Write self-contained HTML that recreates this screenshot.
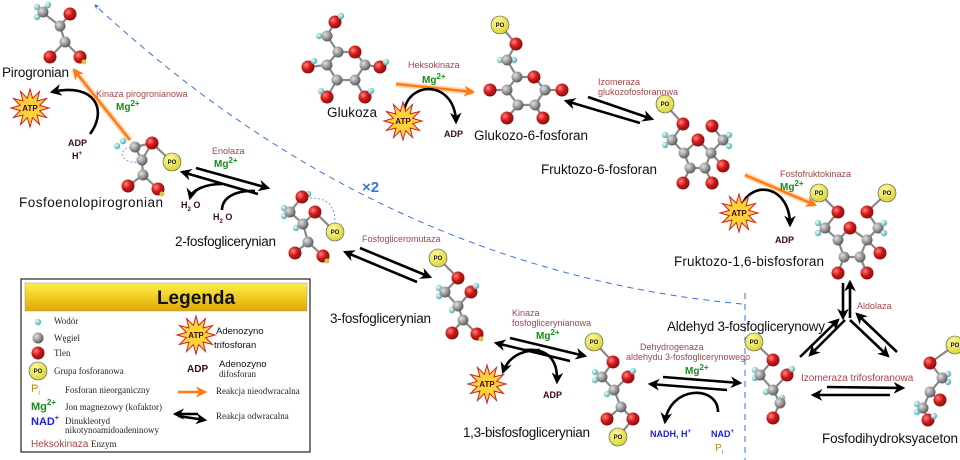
<!DOCTYPE html>
<html><head><meta charset="utf-8"><style>
html,body{margin:0;padding:0;background:#fff;width:960px;height:460px;overflow:hidden}
svg{display:block;font-family:"Liberation Sans",sans-serif}
.nm{font-size:13.5px;fill:#111}
.en{font-size:9px;fill:#a8434a}
.mg{font-size:10px;fill:#1a8a1a;font-weight:bold}
.adp{font-size:9px;font-weight:bold;fill:#3a0a18}
.bd{stroke:#888;stroke-width:2.2;fill:none}
.ar{stroke:#000;stroke-width:2.6;fill:none}
.lg{font-family:"Liberation Serif",serif;font-size:9px;fill:#222}
.po{font-size:6px;font-weight:bold;fill:#111}
</style></head><body>
<svg width="960" height="460" viewBox="0 0 960 460" xmlns="http://www.w3.org/2000/svg">
<defs>
<radialGradient id="gO" cx="35%" cy="35%" r="70%"><stop offset="0" stop-color="#ff8080"/><stop offset=".5" stop-color="#d01818"/><stop offset="1" stop-color="#801010"/></radialGradient>
<radialGradient id="gC" cx="35%" cy="35%" r="70%"><stop offset="0" stop-color="#e0e0e0"/><stop offset=".6" stop-color="#909090"/><stop offset="1" stop-color="#555"/></radialGradient>
<radialGradient id="gH" cx="35%" cy="35%" r="70%"><stop offset="0" stop-color="#e8ffff"/><stop offset="1" stop-color="#4aa8a8"/></radialGradient>
<radialGradient id="gP" cx="40%" cy="35%" r="70%"><stop offset="0" stop-color="#fffba0"/><stop offset="1" stop-color="#d8d030"/></radialGradient>
<linearGradient id="gL" x1="0" y1="0" x2="0" y2="1"><stop offset="0" stop-color="#fff04a"/><stop offset="1" stop-color="#e0a800"/></linearGradient>
<g id="O"><circle r="6.5" fill="url(#gO)"/></g>
<g id="C"><circle r="5.5" fill="url(#gC)"/></g>
<g id="H"><circle r="3.2" fill="url(#gH)"/></g>
<g id="P"><circle r="9" fill="url(#gP)" stroke="#555" stroke-width=".6"/></g>
<g id="S"><polygon fill="#ffd23a" stroke="#d02020" stroke-width="1" points="19,0 9.7,2.6 16.5,9.5 7.1,7.1 9.5,16.5 2.6,9.7 0,19 -2.6,9.7 -9.5,16.5 -7.1,7.1 -16.5,9.5 -9.7,2.6 -19,0 -9.7,-2.6 -16.5,-9.5 -7.1,-7.1 -9.5,-16.5 -2.6,-9.7 0,-19 2.6,-9.7 9.5,-16.5 7.1,-7.1 16.5,-9.5 9.7,-2.6"/></g>
<marker id="mb" viewBox="0 0 10 10" refX="8" refY="5" markerWidth="4.5" markerHeight="4.5" orient="auto"><path d="M0,0 L10,5 L0,10 L3,5z" fill="#000"/></marker>
<marker id="mo" viewBox="0 0 10 10" refX="8" refY="5" markerWidth="4.5" markerHeight="4.5" orient="auto"><path d="M0,0 L10,5 L0,10 L3,5z" fill="#ff7a10"/></marker>
<marker id="mbl" viewBox="0 0 10 10" refX="8" refY="5" markerWidth="5" markerHeight="5" orient="auto"><path d="M0,0 L10,5 L0,10 L3,5z" fill="#2a6ae0"/></marker>
</defs>

<path d="M742,304 Q380,270 95,5" stroke="#3a70e0" stroke-width="1" stroke-dasharray="6,5" fill="none" marker-end="url(#mbl)"/>
<line x1="745" y1="293" x2="745" y2="460" stroke="#3a70e0" stroke-width="1" stroke-dasharray="6,5"/>
<text x="362" y="192" font-size="15" font-weight="bold" fill="#3a70e0">×2</text>

<!-- Pyruvate -->
<polyline class="bd" points="42,12 60,26 70,14"/><polyline class="bd" points="60,26 65,42 50,57"/><line class="bd" x1="65" y1="42" x2="80" y2="57"/>
<use href="#H" x="37" y="7"/><use href="#H" x="48" y="5"/><use href="#H" x="37" y="17"/><use href="#C" x="43" y="12"/>
<use href="#C" x="60" y="26"/><use href="#O" x="70" y="14"/><use href="#C" x="65" y="42"/><use href="#O" x="50" y="57"/><use href="#O" x="80" y="57"/>
<circle cx="84" cy="62" r="2.5" fill="#cc4"/>
<text class="nm" x="2" y="77" textLength="67">Pirogronian</text>

<line x1="130" y1="140" x2="74" y2="70" stroke="#ffb070" stroke-width="6" opacity=".5"/>
<line x1="130" y1="140" x2="74" y2="70" stroke="#ff7a10" stroke-width="2.5" marker-end="url(#mo)"/>
<text class="en" x="96" y="97">Kinaza pirogronianowa</text>
<text class="mg" x="116" y="110">Mg<tspan font-size="8" dy="-4">2+</tspan></text>
<path class="ar" d="M90,134 C108,110 95,82 52,92" marker-end="url(#mb)"/>
<use href="#S" x="30" y="108"/><text x="30" y="111" font-size="8" font-weight="bold" text-anchor="middle" fill="#3a0a18">ATP</text>
<text class="adp" x="68" y="146">ADP</text><text class="adp" x="72" y="159">H<tspan font-size="6" dy="-4">+</tspan></text>

<!-- PEP -->
<path d="M135,147 c-20,0 -15,18 5,15" stroke="#7aa0e0" stroke-dasharray="2,2" fill="none"/>
<polyline class="bd" points="135,147 152,143 172,162"/><polyline class="bd" points="135,147 142,160 143,175 128,186"/><line class="bd" x1="143" y1="175" x2="158" y2="189"/><line class="bd" x1="142" y1="160" x2="152" y2="143"/>
<use href="#H" x="123" y="141"/><use href="#H" x="117" y="146"/><use href="#C" x="135" y="147"/><use href="#O" x="152" y="143"/><use href="#P" x="172" y="162"/>
<use href="#C" x="142" y="160"/><use href="#C" x="143" y="175"/><use href="#O" x="128" y="186"/><use href="#O" x="158" y="189"/><circle cx="162" cy="194" r="2.5" fill="#cc4"/>
<text class="po" x="172" y="164" text-anchor="middle">PO</text>
<text class="nm" x="19" y="207" textLength="144">Fosfoenolopirogronian</text>

<line class="ar" x1="196" y1="168" x2="268" y2="188" marker-end="url(#mb)"/>
<line class="ar" x1="258" y1="194" x2="182" y2="172" marker-end="url(#mb)"/>
<text class="en" x="212" y="154">Enolaza</text><text class="mg" x="214" y="167">Mg<tspan font-size="8" dy="-4">2+</tspan></text>
<path class="ar" d="M222,184 C205,184 192,190 190,198" marker-end="url(#mb)"/>
<path class="ar" d="M222,210 C222,198 235,190 255,191"/>
<text class="adp" x="181" y="208">H<tspan font-size="6" dy="3">2</tspan><tspan dy="-3"> O</tspan></text>
<text class="adp" x="213" y="220">H<tspan font-size="6" dy="3">2</tspan><tspan dy="-3"> O</tspan></text>

<!-- 2PG -->
<path d="M310,198 c15,0 25,5 25,25" stroke="#7aa0e0" stroke-dasharray="2,2" fill="none"/>
<polyline class="bd" points="302,197 290,212 303,224 315,212 335,232"/><polyline class="bd" points="303,224 308,242 295,253"/><line class="bd" x1="308" y1="242" x2="323" y2="256"/>
<use href="#H" x="308" y="194"/><use href="#O" x="302" y="197"/><use href="#H" x="284" y="208"/><use href="#H" x="284" y="216"/><use href="#C" x="290" y="212"/><use href="#O" x="315" y="212"/><use href="#H" x="296" y="228"/><use href="#C" x="303" y="224"/>
<use href="#P" x="335" y="232"/><use href="#C" x="308" y="242"/><use href="#O" x="295" y="253"/><use href="#O" x="323" y="256"/><circle cx="327" cy="261" r="2.5" fill="#cc4"/>
<text class="po" x="335" y="234" text-anchor="middle">PO</text>
<text class="nm" x="175" y="246" textLength="101">2-fosfoglicerynian</text>

<line class="ar" x1="360" y1="248" x2="430" y2="277" marker-end="url(#mb)"/>
<line class="ar" x1="417" y1="282" x2="345" y2="252" marker-end="url(#mb)"/>
<text class="en" x="362" y="242">Fosfogliceromutaza</text>

<!-- 3PG -->
<polyline class="bd" points="438,258 458,278 445,292 458,306 471,292"/><polyline class="bd" points="458,306 463,320 452,333"/><line class="bd" x1="463" y1="320" x2="477" y2="334"/>
<use href="#P" x="438" y="258"/><use href="#O" x="458" y="278"/><use href="#H" x="439" y="288"/><use href="#H" x="439" y="296"/><use href="#C" x="445" y="292"/><use href="#O" x="471" y="292"/><use href="#H" x="476" y="286"/><use href="#H" x="452" y="310"/><use href="#C" x="458" y="306"/>
<use href="#C" x="463" y="320"/><use href="#O" x="452" y="333"/><use href="#O" x="477" y="334"/><circle cx="481" cy="339" r="2.5" fill="#cc4"/>
<text class="po" x="438" y="260" text-anchor="middle">PO</text>
<text class="nm" x="330" y="323" textLength="101">3-fosfoglicerynian</text>

<line class="ar" x1="510" y1="338" x2="585" y2="356" marker-end="url(#mb)"/>
<line class="ar" x1="570" y1="361" x2="496" y2="343" marker-end="url(#mb)"/>
<text class="en" x="512" y="316">Kinaza</text><text class="en" x="512" y="326">fosfoglicerynianowa</text>
<text class="mg" x="536" y="339">Mg<tspan font-size="8" dy="-4">2+</tspan></text>
<path class="ar" d="M540,350 C520,350 508,358 503,372" marker-end="url(#mb)"/>
<path class="ar" d="M525,350 C548,348 558,360 557,382" marker-end="url(#mb)"/>
<use href="#S" x="487" y="384"/><text x="487" y="387" font-size="8" font-weight="bold" text-anchor="middle" fill="#3a0a18">ATP</text>
<text class="adp" x="543" y="398">ADP</text>

<!-- 1,3BPG -->
<polyline class="bd" points="594,342 613,362 602,377 614,390 628,377"/><polyline class="bd" points="614,390 621,407 607,419"/><polyline class="bd" points="621,407 633,419 618,437"/>
<use href="#P" x="594" y="342"/><use href="#O" x="613" y="362"/><use href="#H" x="595" y="372"/><use href="#H" x="595" y="380"/><use href="#C" x="602" y="377"/><use href="#O" x="628" y="377"/><use href="#H" x="633" y="371"/><use href="#H" x="607" y="394"/><use href="#C" x="614" y="390"/>
<use href="#C" x="621" y="407"/><use href="#O" x="607" y="419"/><use href="#O" x="633" y="419"/><use href="#P" x="618" y="437"/>
<text class="po" x="594" y="344" text-anchor="middle">PO</text><text class="po" x="618" y="439" text-anchor="middle">PO</text>
<text class="nm" x="463" y="437" textLength="127">1,3-bisfosfoglicerynian</text>

<line class="ar" x1="663" y1="377" x2="740" y2="383" marker-end="url(#mb)"/>
<line class="ar" x1="727" y1="390" x2="650" y2="384" marker-end="url(#mb)"/>
<text class="en" x="640" y="350">Dehydrogenaza</text><text class="en" x="626" y="360">aldehydu 3-fosfoglicerynowego</text>
<text class="mg" x="685" y="374">Mg<tspan font-size="8" dy="-4">2+</tspan></text>
<path class="ar" d="M718,412 C718,385 670,385 665,422" marker-end="url(#mb)"/>
<text x="650" y="437" font-size="9" font-weight="bold" fill="#2020e0">NADH, H<tspan font-size="6" dy="-4">+</tspan></text>
<text x="711" y="437" font-size="9" font-weight="bold" fill="#2020e0">NAD<tspan font-size="6" dy="-4">+</tspan></text>
<text x="715" y="451" font-size="10" fill="#b09000">P<tspan font-size="7" dy="3">i</tspan></text>

<!-- GAP -->
<polyline class="bd" points="754,342 773,360 760,375 773,390 787,375"/><polyline class="bd" points="773,390 780,403 773,418"/>
<use href="#P" x="754" y="342"/><use href="#O" x="773" y="360"/><use href="#H" x="755" y="370"/><use href="#H" x="755" y="378"/><use href="#C" x="760" y="375"/><use href="#O" x="787" y="375"/><use href="#H" x="792" y="369"/><use href="#H" x="766" y="392"/><use href="#C" x="773" y="390"/>
<use href="#H" x="782" y="398"/><use href="#C" x="780" y="403"/><use href="#O" x="773" y="418"/>
<text class="po" x="754" y="344" text-anchor="middle">PO</text>
<text class="nm" x="667" y="331" textLength="158">Aldehyd 3-fosfoglicerynowy</text>

<line class="ar" x1="827" y1="387" x2="903" y2="388" marker-end="url(#mb)"/>
<line class="ar" x1="890" y1="395" x2="813" y2="395" marker-end="url(#mb)"/>
<text x="801" y="381" font-size="10" fill="#a8434a">Izomeraza trifosforanowa</text>

<!-- DHAP -->
<polyline class="bd" points="955,345 930,363 942,378 930,392 923,408 928,420"/><line class="bd" x1="930" y1="392" x2="940" y2="400"/>
<use href="#P" x="955" y="345"/><use href="#O" x="930" y="363"/><use href="#H" x="948" y="374"/><use href="#H" x="948" y="382"/><use href="#C" x="942" y="378"/><use href="#C" x="930" y="392"/><use href="#O" x="940" y="400"/>
<use href="#H" x="917" y="404"/><use href="#H" x="917" y="412"/><use href="#C" x="923" y="408"/><use href="#O" x="928" y="420"/><use href="#H" x="934" y="416"/>
<text class="po" x="955" y="347" text-anchor="middle">PO</text>
<text class="nm" x="822" y="443" textLength="136">Fosfodihydroksyaceton</text>

<line class="ar" x1="843" y1="283" x2="843" y2="318" marker-end="url(#mb)"/>
<line class="ar" x1="850" y1="318" x2="850" y2="282" marker-end="url(#mb)"/>
<line class="ar" x1="845" y1="320" x2="810" y2="355" marker-end="url(#mb)"/>
<line class="ar" x1="800" y1="357" x2="838" y2="320" marker-end="url(#mb)"/>
<line class="ar" x1="850" y1="320" x2="888" y2="356" marker-end="url(#mb)"/>
<line class="ar" x1="897" y1="352" x2="857" y2="314" marker-end="url(#mb)"/>
<text class="en" x="857" y="309">Aldolaza</text>

<!-- Glucose -->
<polyline class="bd" points="335,22 327,36 338,52 355,52 365,65 380,67"/><polyline class="bd" points="338,52 327,65 308,67"/><polyline class="bd" points="327,65 337,80 355,80 365,65"/><line class="bd" x1="337" y1="80" x2="327" y2="97"/><line class="bd" x1="355" y1="80" x2="365" y2="97"/>
<use href="#O" x="335" y="22"/><use href="#H" x="341" y="16"/><use href="#H" x="319" y="36"/><use href="#C" x="327" y="36"/><use href="#C" x="338" y="52"/><use href="#O" x="355" y="52"/><use href="#C" x="365" y="65"/><use href="#O" x="380" y="67"/><use href="#H" x="386" y="62"/>
<use href="#C" x="327" y="65"/><use href="#O" x="308" y="67"/><use href="#H" x="314" y="61"/><use href="#C" x="337" y="80"/><use href="#C" x="355" y="80"/><use href="#O" x="327" y="97"/><use href="#O" x="365" y="97"/><use href="#H" x="321" y="91"/><use href="#H" x="371" y="91"/>
<text class="nm" x="327" y="117" textLength="50">Glukoza</text>

<line x1="396" y1="84" x2="473" y2="92" stroke="#ffb070" stroke-width="6" opacity=".5"/>
<line x1="396" y1="84" x2="473" y2="92" stroke="#ff7a10" stroke-width="2.5" marker-end="url(#mo)"/>
<text class="en" x="408" y="68">Heksokinaza</text><text class="mg" x="422" y="83">Mg<tspan font-size="8" dy="-4">2+</tspan></text>
<path class="ar" d="M404,112 C408,80 455,80 456,122" marker-end="url(#mb)"/>
<use href="#S" x="403" y="121"/><text x="403" y="124" font-size="8" font-weight="bold" text-anchor="middle" fill="#3a0a18">ATP</text>
<text class="adp" x="444" y="137">ADP</text>

<!-- G6P -->
<polyline class="bd" points="500,25 516,44 507,60 517,77 534,77 545,90 562,90"/><polyline class="bd" points="517,77 507,90 490,90"/><polyline class="bd" points="507,90 518,105 535,105 545,90"/><line class="bd" x1="518" y1="105" x2="507" y2="118"/><line class="bd" x1="535" y1="105" x2="543" y2="118"/>
<use href="#P" x="500" y="25"/><use href="#O" x="516" y="44"/><use href="#H" x="500" y="60"/><use href="#H" x="514" y="60"/><use href="#C" x="507" y="60"/><use href="#C" x="517" y="77"/><use href="#O" x="534" y="77"/><use href="#C" x="545" y="90"/><use href="#O" x="562" y="90"/>
<use href="#C" x="507" y="90"/><use href="#O" x="490" y="90"/><use href="#C" x="518" y="105"/><use href="#C" x="535" y="105"/><use href="#O" x="507" y="118"/><use href="#O" x="543" y="118"/>
<text class="po" x="500" y="27" text-anchor="middle">PO</text>
<text class="nm" x="474" y="140" textLength="114">Glukozo-6-fosforan</text>

<line class="ar" x1="588" y1="97" x2="652" y2="119" marker-end="url(#mb)"/>
<line class="ar" x1="640" y1="123" x2="566" y2="101" marker-end="url(#mb)"/>
<text class="en" x="598" y="85">Izomeraza</text><text class="en" x="598" y="95">glukozofosforanowa</text>

<!-- F6P -->
<polyline class="bd" points="665,104 683,124 672,140 684,153 698,140 711,153 723,140 712,126"/><polyline class="bd" points="684,153 690,168 705,168 711,153 723,166"/><line class="bd" x1="690" y1="168" x2="683" y2="183"/><line class="bd" x1="705" y1="168" x2="712" y2="183"/>
<use href="#P" x="665" y="104"/><use href="#O" x="683" y="124"/><use href="#H" x="665" y="135"/><use href="#H" x="665" y="145"/><use href="#C" x="672" y="140"/><use href="#O" x="698" y="140"/><use href="#C" x="723" y="140"/><use href="#H" x="729" y="135"/><use href="#H" x="729" y="146"/><use href="#O" x="712" y="126"/>
<use href="#C" x="684" y="153"/><use href="#C" x="711" y="153"/><use href="#O" x="723" y="166"/><use href="#C" x="690" y="168"/><use href="#C" x="705" y="168"/><use href="#O" x="683" y="183"/><use href="#O" x="712" y="183"/>
<text class="po" x="665" y="106" text-anchor="middle">PO</text>
<text class="nm" x="541" y="174" textLength="116">Fruktozo-6-fosforan</text>

<line x1="745" y1="175" x2="815" y2="205" stroke="#ffb070" stroke-width="6" opacity=".5"/>
<line x1="745" y1="175" x2="815" y2="205" stroke="#ff7a10" stroke-width="2.5" marker-end="url(#mo)"/>
<text class="en" x="780" y="177">Fosfofruktokinaza</text><text class="mg" x="780" y="190">Mg<tspan font-size="8" dy="-4">2+</tspan></text>
<path class="ar" d="M742,205 C752,180 790,185 790,225" marker-end="url(#mb)"/>
<use href="#S" x="739" y="213"/><text x="739" y="216" font-size="8" font-weight="bold" text-anchor="middle" fill="#3a0a18">ATP</text>
<text class="adp" x="775" y="243">ADP</text>

<!-- F16BP -->
<polyline class="bd" points="819,193 838,212 825,228 838,240 850,228 867,240 878,228 867,212 887,193"/><polyline class="bd" points="838,240 844,257 860,257 867,240"/><line class="bd" x1="867" y1="240" x2="880" y2="253"/><line class="bd" x1="844" y1="257" x2="838" y2="273"/><line class="bd" x1="860" y1="257" x2="867" y2="273"/>
<use href="#P" x="819" y="193"/><use href="#P" x="887" y="193"/><use href="#O" x="838" y="212"/><use href="#O" x="867" y="212"/><use href="#H" x="818" y="223"/><use href="#H" x="818" y="233"/><use href="#C" x="825" y="228"/><use href="#O" x="850" y="228"/><use href="#C" x="878" y="228"/><use href="#H" x="884" y="223"/><use href="#H" x="884" y="233"/>
<use href="#C" x="838" y="240"/><use href="#C" x="867" y="240"/><use href="#O" x="880" y="253"/><use href="#C" x="844" y="257"/><use href="#C" x="860" y="257"/><use href="#O" x="838" y="273"/><use href="#O" x="867" y="273"/>
<text class="po" x="819" y="195" text-anchor="middle">PO</text><text class="po" x="887" y="195" text-anchor="middle">PO</text>
<text class="nm" x="674" y="266" textLength="150">Fruktozo-1,6-bisfosforan</text>

<!-- Legend -->
<rect x="21" y="279" width="289" height="173" fill="#fff" stroke="#222" stroke-width="1.2"/>
<rect x="25" y="283" width="282" height="28" fill="url(#gL)" stroke="#999" stroke-width=".5"/>
<text x="196" y="304" font-size="19" font-weight="bold" text-anchor="middle" fill="#111">Legenda</text>
<use href="#H" x="38" y="322"/><text class="lg" x="54" y="324">Wodór</text>
<use href="#C" x="38" y="338"/><text class="lg" x="54" y="341">Węgiel</text>
<use href="#O" x="38" y="353"/><text class="lg" x="54" y="356">Tlen</text>
<use href="#P" x="38" y="371"/><text class="po" x="38" y="373" text-anchor="middle">PO</text><text class="lg" x="54" y="374">Grupa fosforanowa</text>
<text x="31" y="392" font-size="11" fill="#b09000">P<tspan font-size="7" dy="3">i</tspan></text><text class="lg" x="65" y="393">Fosforan nieorganiczny</text>
<text x="31" y="410" font-size="11" font-weight="bold" fill="#1a8a1a">Mg<tspan font-size="8" dy="-5">2+</tspan></text><text class="lg" x="65" y="410">Jon magnezowy (kofaktor)</text>
<text x="31" y="425" font-size="11" font-weight="bold" fill="#2020e0">NAD<tspan font-size="7" dy="-5">+</tspan></text><text class="lg" x="65" y="424">Dinukleotyd</text><text class="lg" x="65" y="433">nikotynoamidoadeninowy</text>
<text x="31" y="447" font-size="10" fill="#a8434a">Heksokinaza</text><text class="lg" x="91" y="447">Enzym</text>
<use href="#S" x="196" y="335"/><text x="196" y="338" font-size="8" font-weight="bold" text-anchor="middle" fill="#3a0a18">ATP</text>
<text x="216" y="334" font-size="9.5" fill="#111">Adenozyno</text><text x="214" y="348" font-size="9.5" fill="#111">trifosforan</text>
<text x="187" y="372" font-size="10" font-weight="bold" fill="#3a0a18">ADP</text>
<text x="219" y="367" font-size="9.5" fill="#111">Adenozyno</text><text class="lg" x="219" y="377" font-size="9.5">difosforan</text>
<line x1="178" y1="392" x2="205" y2="392" stroke="#ff7a10" stroke-width="2.5" marker-end="url(#mo)"/><text class="lg" x="216" y="394">Reakcja nieodwracalna</text>
<line x1="178" y1="416" x2="205" y2="420" stroke="#000" stroke-width="2.5" marker-end="url(#mb)"/>
<line x1="198" y1="414" x2="175" y2="414" stroke="#000" stroke-width="2.5" marker-end="url(#mb)"/>
<text class="lg" x="216" y="419">Reakcja odwracalna</text>
</svg>
</body></html>
